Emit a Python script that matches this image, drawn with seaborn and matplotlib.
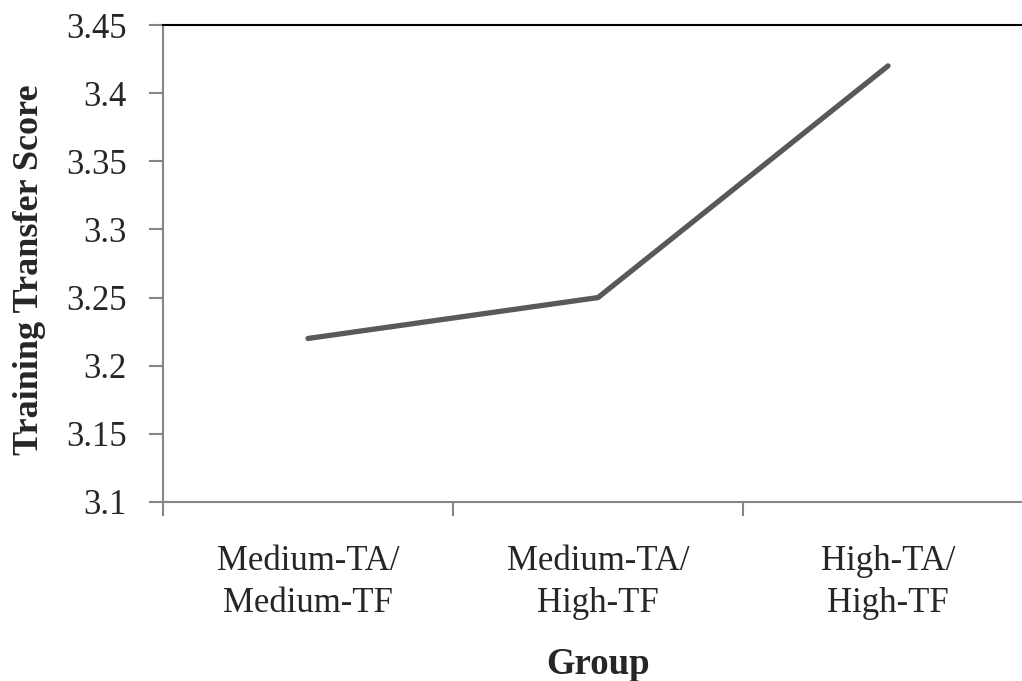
import matplotlib
matplotlib.use("Agg")
import matplotlib.pyplot as plt
import seaborn as sns
import numpy as np

categories = ["Medium-TA/\nMedium-TF", "Medium-TA/\nHigh-TF", "High-TA/\nHigh-TF"]
scores = [3.22, 3.25, 3.42]
yticks = [3.1, 3.15, 3.2, 3.25, 3.3, 3.35, 3.4, 3.45]
ytick_labels = ["3.1", "3.15", "3.2", "3.25", "3.3", "3.35", "3.4", "3.45"]

sns.set_style("white")
plt.rcParams['font.family'] = ['Liberation Serif', 'DejaVu Serif']

fig = plt.figure(figsize=(10.22, 6.81), dpi=100)
ax = fig.add_axes([163/1022, 179/681, 870/1022, 477/681])

sns.lineplot(x=np.arange(len(categories)), y=scores, ax=ax, color="#595959",
             linewidth=3.8, sort=False, solid_capstyle="round")

ax.set_xlim(-0.5, len(categories) - 0.5)
ax.set_ylim(3.1, 3.45)
ax.set_yticks(yticks)
ax.set_yticklabels(ytick_labels)

ax.set_xticks(np.arange(-0.5, len(categories)), minor=False)
ax.set_xticklabels([])
ax.set_xticks(np.arange(len(categories)), minor=True)
ax.set_xticklabels(categories, minor=True, fontsize=25, linespacing=1.35)
ax.tick_params(axis="x", which="minor", length=0, pad=31)
ax.tick_params(axis="x", which="major", direction="out", length=10, width=1.5, color="#868686", bottom=True)
ax.tick_params(axis="y", direction="out", length=10, width=1.5, color="#868686", left=True, labelsize=25, pad=16)

for s in ["left", "bottom"]:
    ax.spines[s].set_color("#868686")
    ax.spines[s].set_linewidth(1.5)
ax.spines["right"].set_visible(False)
ax.spines["top"].set_color("black")
ax.spines["top"].set_linewidth(1.5)

ax.set_ylabel("Training Transfer Score", fontsize=26, fontweight="bold")
ax.yaxis.set_label_coords(-0.135, 0.486)
fig.text(598/1022, 1 - 665/681, "Group", fontsize=26.5, fontweight="bold", ha="center", va="center")

fig.savefig("out.png", dpi=100)
